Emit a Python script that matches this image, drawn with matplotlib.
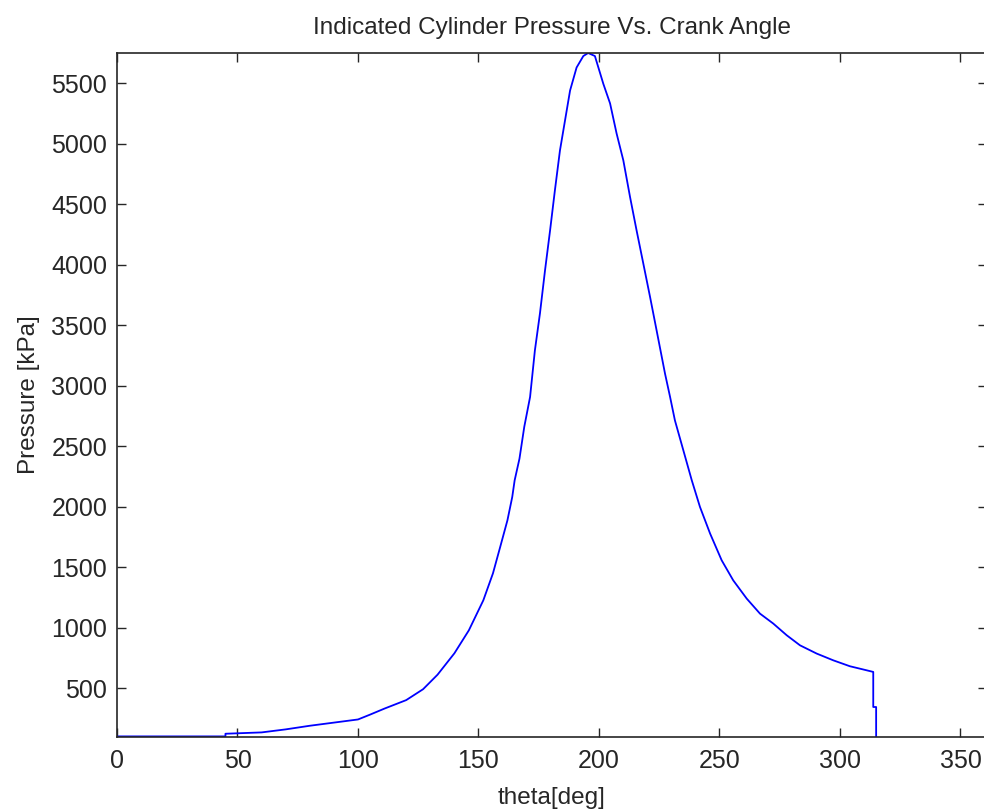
import matplotlib
matplotlib.use("Agg")
import matplotlib.pyplot as plt

# crank angle [deg] and cylinder pressure [kPa]
theta = [0, 45, 45, 60, 70, 80, 90, 100, 105, 111, 120, 127, 133, 140, 146,
         152, 156, 159, 162, 164, 165, 167, 169, 171.4, 173.4, 175.5, 177.6,
         179.7, 181.7, 183.8, 185.9, 188, 190.7, 193.5, 195.5, 198.3, 201.8,
         204.6, 207.3, 210.1, 212.9, 215.6, 218.4, 221.2, 223.9, 227.4, 229.5,
         231.5, 235, 238.5, 241.9, 246.1, 250.9, 255.7, 261.3, 266.8, 272.3,
         277.9, 283.4, 290.3, 297.2, 304.1, 309.7, 313.8, 313.8, 315, 315]
pressure = [100, 100, 122, 133, 158, 188, 214, 240, 280, 330, 400, 490, 610,
            787, 977, 1225, 1448, 1666, 1886, 2079, 2217, 2396, 2660, 2906,
            3291, 3597, 3952, 4283, 4614, 4944, 5192, 5440, 5630, 5725, 5750,
            5725, 5495, 5333, 5085, 4862, 4558, 4283, 4008, 3732, 3457, 3099,
            2906, 2713, 2465, 2217, 1997, 1777, 1556, 1390, 1239, 1115, 1033,
            936, 853, 785, 729, 680, 653, 633, 343, 343, 95]

x_ticks = list(range(0, 351, 50))
y_ticks = list(range(500, 5501, 500))

plt.rcParams['font.family'] = ['Liberation Sans', 'DejaVu Sans']

fig = plt.figure(figsize=(9.84, 8.10), dpi=100)
# axes run slightly past the right edge, as the reference is cropped there
ax = fig.add_axes([117 / 984, 73 / 810, 870 / 984, 684 / 810])

ax.plot(theta, pressure, color=(0, 0, 1), linewidth=1.3)
ax.set_xlim(0, 361)
ax.set_ylim(95, 5750)
ax.set_xticks(x_ticks)
ax.set_yticks(y_ticks)

ax.tick_params(direction='in', length=6.2, width=1.0, color='#262626',
               labelsize=18, top=True, right=True, labelcolor='#262626')
ax.tick_params(axis='x', pad=9)
ax.tick_params(axis='y', pad=7)
for s in ax.spines.values():
    s.set_linewidth(1.2)
    s.set_color('#262626')

ax.set_title("Indicated Cylinder Pressure Vs. Crank Angle", fontsize=17.5,
             color='#262626', pad=14)
ax.set_xlabel("theta[deg]", fontsize=17.5, color='#262626', labelpad=10)
ax.set_ylabel("Pressure [kPa]", fontsize=17.5, color='#262626', labelpad=8)

fig.savefig("out.png", dpi=100)
